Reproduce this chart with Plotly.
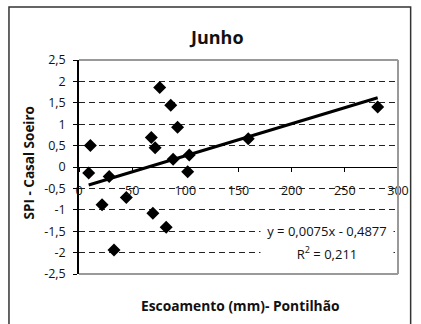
import plotly.graph_objects as go

# Data
escoamento = [9.1, 10.7, 21.7, 28.4, 32.9, 44.5, 68.0, 69.5, 71.6, 75.9,
              82.0, 86.3, 88.5, 92.7, 102.2, 103.7, 159.2, 280.9]
spi = [-0.14, 0.50, -0.88, -0.22, -1.94, -0.71, 0.69, -1.08, 0.45, 1.86,
       -1.41, 1.44, 0.18, 0.93, -0.11, 0.28, 0.66, 1.40]

slope = 0.0075
intercept = -0.4877
r2_text = "0,211"

x_ticks = [0, 50, 100, 150, 200, 250, 300]
x_ticktext = ["0", "50", "100", "150", "200", "250", "300"]
y_ticks = [2.5, 2, 1.5, 1, 0.5, 0, -0.5, -1, -1.5, -2, -2.5]
y_ticktext = ["2,5", "2", "1,5", "1", "0,5", "0", "-0,5", "-1", "-1,5", "-2", "-2,5"]

FONT = "Open Sans"
TXT = "#111"

W, H = 421, 324
L, R, T, B = 79, 14, 60, 50
PW = W - L - R
PH = H - T - B


def px(xp):
    return (xp - L) / PW


def py(yp):
    return (H - B - yp) / PH


fig = go.Figure()

x_tr = [min(escoamento), max(escoamento)]
y_tr = [slope * v + intercept for v in x_tr]

fig.add_trace(go.Scatter(
    x=escoamento, y=spi, mode="markers",
    marker=dict(symbol="diamond", size=10, color="black"),
    showlegend=False, cliponaxis=False))
fig.add_trace(go.Scatter(
    x=x_tr, y=y_tr, mode="lines",
    line=dict(color="black", width=3),
    showlegend=False))


def ann(text, x, y, size, **kw):
    d = dict(text=text, xref="paper", yref="paper", x=px(x), y=py(y),
             xanchor="center", yanchor="middle", showarrow=False,
             font=dict(family=FONT, size=size, color=TXT))
    d.update(kw)
    return d


fig.update_layout(
    width=W, height=H,
    margin=dict(l=L, r=R, t=T, b=B),
    paper_bgcolor="white", plot_bgcolor="white",
    font=dict(family=FONT, size=12, color=TXT),
    xaxis=dict(
        range=[0, 300], tickvals=x_ticks, ticktext=x_ticktext,
        showgrid=False, zeroline=False,
        anchor="free", position=0.5,
        showline=True, linecolor="black", linewidth=1,
        ticks="outside", ticklen=4, tickcolor="black",
        ticklabelstandoff=8,
        tickfont=dict(family=FONT, size=12.5, color=TXT),
    ),
    yaxis=dict(
        range=[-2.5, 2.5], tickvals=y_ticks, ticktext=y_ticktext,
        showgrid=True, gridcolor="#222", gridwidth=1, griddash="6px,4px",
        zeroline=False,
        showline=True, linecolor="black", linewidth=1.5,
        ticks="outside", ticklen=4, tickcolor="black",
        ticklabelstandoff=5,
        tickfont=dict(family=FONT, size=12.5, color=TXT),
    ),
    shapes=[
        # plot-area border (top, right, bottom)
        dict(type="line", xref="paper", yref="paper", x0=0, x1=1, y0=1, y1=1,
             line=dict(color="#999", width=2), layer="above"),
        dict(type="line", xref="paper", yref="paper", x0=1, x1=1, y0=0, y1=1,
             line=dict(color="#999", width=2), layer="above"),
        dict(type="line", xref="paper", yref="paper", x0=0, x1=1, y0=0, y1=0,
             line=dict(color="#999", width=2), layer="above"),
        # outer chart border
        dict(type="rect", xref="paper", yref="paper",
             x0=px(7), x1=px(420), y0=py(335), y1=py(7),
             line=dict(color="#333", width=1.5), layer="above"),
    ],
    annotations=[
        ann("<b>Junho</b>", 220, 37, 18),
        ann("<b>SPI - Casal Soeiro</b>", 28, 163, 13.5, textangle=-90),
        ann("<b>Escoamento (mm)- Pontilhão</b>", 245, 305, 13.8),
        ann("y = 0,0075x - 0,4877", 334, 231, 13,
            bgcolor="white", width=130, height=22, align="center"),
        ann("R<sup>2</sup> = " + r2_text, 334, 253, 13,
            bgcolor="white", width=130, height=22, align="center"),
    ],
)

fig.write_html("out.html")
